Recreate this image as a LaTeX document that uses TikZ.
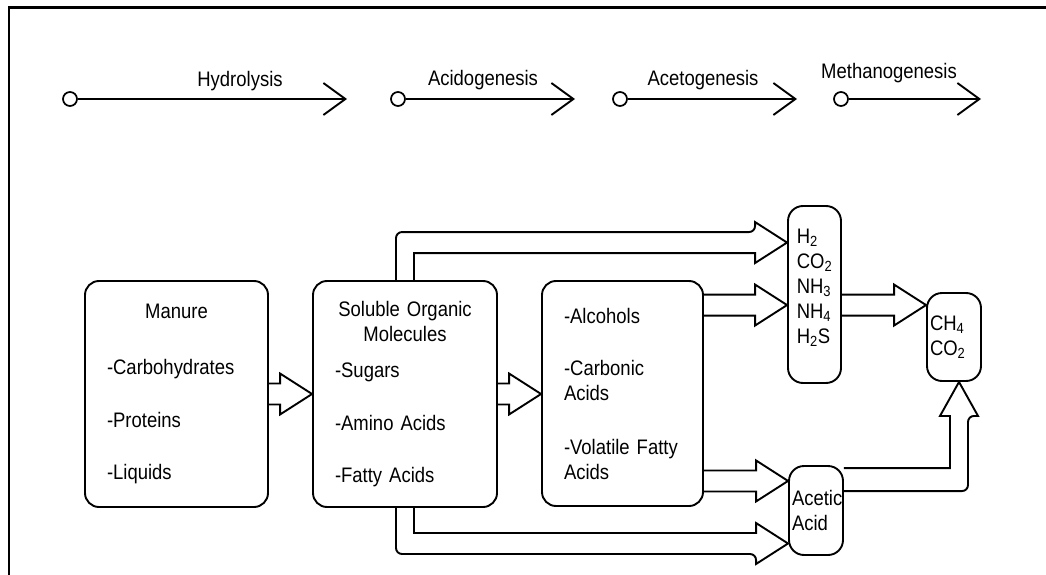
\documentclass[tikz,border=0pt]{standalone}
\usepackage{fontspec}
\setmainfont{Liberation Sans}[FakeStretch=0.88]
\usetikzlibrary{arrows.meta,calc}

% hollow block arrow from #1 to the x of node #2
\newcommand{\fatarrow}[2]{%
  \draw ($(#1)+(0,-10.5)$) -- ($(#2 |- #1)+(-32,-10.5)$) -- ($(#2 |- #1)+(-32,-20.5)$)
    -- (#2 |- #1) -- ($(#2 |- #1)+(-32,20.5)$) -- ($(#2 |- #1)+(-32,10.5)$) -- ($(#1)+(0,10.5)$);}

\begin{document}
\begin{tikzpicture}[x=1pt, y=-1pt, line width=1.9pt, font=\fontsize{21}{25}\selectfont,
  >={Straight Barb[length=22pt,width=32pt]},
  stage/.style={circle, draw, minimum size=14pt, inner sep=0pt, line width=1.7pt},
  bigbox/.style={draw, rounded corners=14pt, align=left, inner xsep=22pt, inner ysep=0pt},
  smallbox/.style={draw, rounded corners=15pt, align=left, inner xsep=3pt, inner ysep=0pt}]
  \useasboundingbox (0,0) rectangle (1046,575);
  \draw[line width=2.4pt] (9,575) -- (9,7.5) -- (1046,7.5);

  \node[stage] (hyd) at (70,99) {};
  \coordinate (hydtip) at (347,99);
  \draw[->] (hyd) -- (hydtip);
  \node (hydlbl) at (240,81) {Hydrolysis};

  \node[stage] (acid) at (398,99) {};
  \coordinate (acidtip) at (575,99);
  \draw[->] (acid) -- (acidtip);
  \node (acidlbl) at (483,80) {Acidogenesis};

  \node[stage] (acet) at (620,99) {};
  \coordinate (acettip) at (797,99);
  \draw[->] (acet) -- (acettip);
  \node (acetlbl) at (703,80) {Acetogenesis};

  \node[stage] (meth) at (841,99) {};
  \coordinate (methtip) at (981,99);
  \draw[->] (meth) -- (methtip);
  \node (methlbl) at (889,73) {Methanogenesis};

  \node[bigbox, text width=139pt, minimum height=226pt] (man) at (176.5,394)
    {\makebox[\linewidth]{Manure}\\[31pt] -Carbohydrates\\[28pt] -Proteins\\[27pt] -Liquids};
  \node[bigbox, text width=140pt, minimum height=226pt] (sol) at (405,394)
    {\makebox[\linewidth]{Soluble Organic}\\ \makebox[\linewidth]{Molecules}\\[11pt] -Sugars\\[28pt] -Amino Acids\\[27pt] -Fatty Acids};
  \node[bigbox, text width=117pt, minimum height=225pt] (acd) at (622.5,393.5)
    {-Alcohols\\[27pt] -Carbonic\\ Acids\\[29pt] -Volatile Fatty\\ Acids};
  \node[smallbox, minimum width=53pt, minimum height=177pt] (gas) at (814.5,294.5)
    {H\textsubscript{2}\\ CO\textsubscript{2}\\ NH\textsubscript{3}\\ NH\textsubscript{4}\\ H\textsubscript{2}S\\[-8pt]};
  \node[smallbox, text width=48pt, minimum height=88pt] (ch4) at (954,337)
    {CH\textsubscript{4}\\ CO\textsubscript{2}};
  \node[smallbox, text width=48pt, minimum height=89pt] (ace) at (816,510.5)
    {\mbox{Acetic}\\ Acid};

  \fatarrow{man.east}{sol.west}
  \fatarrow{sol.east}{acd.west}
  \coordinate (a1) at ($(acd.north east)+(0,25)$);
  \fatarrow{a1}{gas.west}
  \coordinate (a2) at (gas.east |- a1);
  \fatarrow{a2}{ch4.west}
  \coordinate (a3) at ($(acd.south east)+(0,-26)$);
  \fatarrow{a3}{ace.west}

  \coordinate (t1) at ($(gas.north west)+(0,37.5)$);
  \draw[rounded corners=6pt] ($(sol.north)+(-9,0)$) |- ($(t1)+(-32,-10.5)$)
    [sharp corners] -- ($(t1)+(-32,-20.5)$) -- (t1) -- ($(t1)+(-32,20.5)$) -- ($(t1)+(-32,10.5)$)
    -- ($(sol.north |- t1)+(9,10.5)$) [rounded corners=6pt] -- ($(sol.north)+(9,0)$);

  \coordinate (t2) at ($(ace.west)+(0,33)$);
  \draw[rounded corners=6pt] ($(sol.south)+(-9,0)$) |- ($(t2)+(-32,10.5)$)
    [sharp corners] -- ($(t2)+(-32,20.5)$) -- (t2) -- ($(t2)+(-32,-20.5)$) -- ($(t2)+(-32,-10.5)$)
    -- ($(sol.south |- t2)+(9,-10.5)$) [rounded corners=6pt] -- ($(sol.south)+(9,0)$);

  \coordinate (t3) at ($(ch4.south)+(5,0)$);
  \draw[rounded corners=6pt] ($(ace.north east)+(0,26)$) -| ($(t3)+(9,34)$)
    [sharp corners] -- ($(t3)+(19,34)$) -- (t3) -- ($(t3)+(-19,34)$) -- ($(t3)+(-9,34)$)
    -- ($(t3 |- ace.north east)+(-9,3)$) [rounded corners=6pt] -- ($(ace.north east)+(0,3)$);
\end{tikzpicture}
\end{document}
